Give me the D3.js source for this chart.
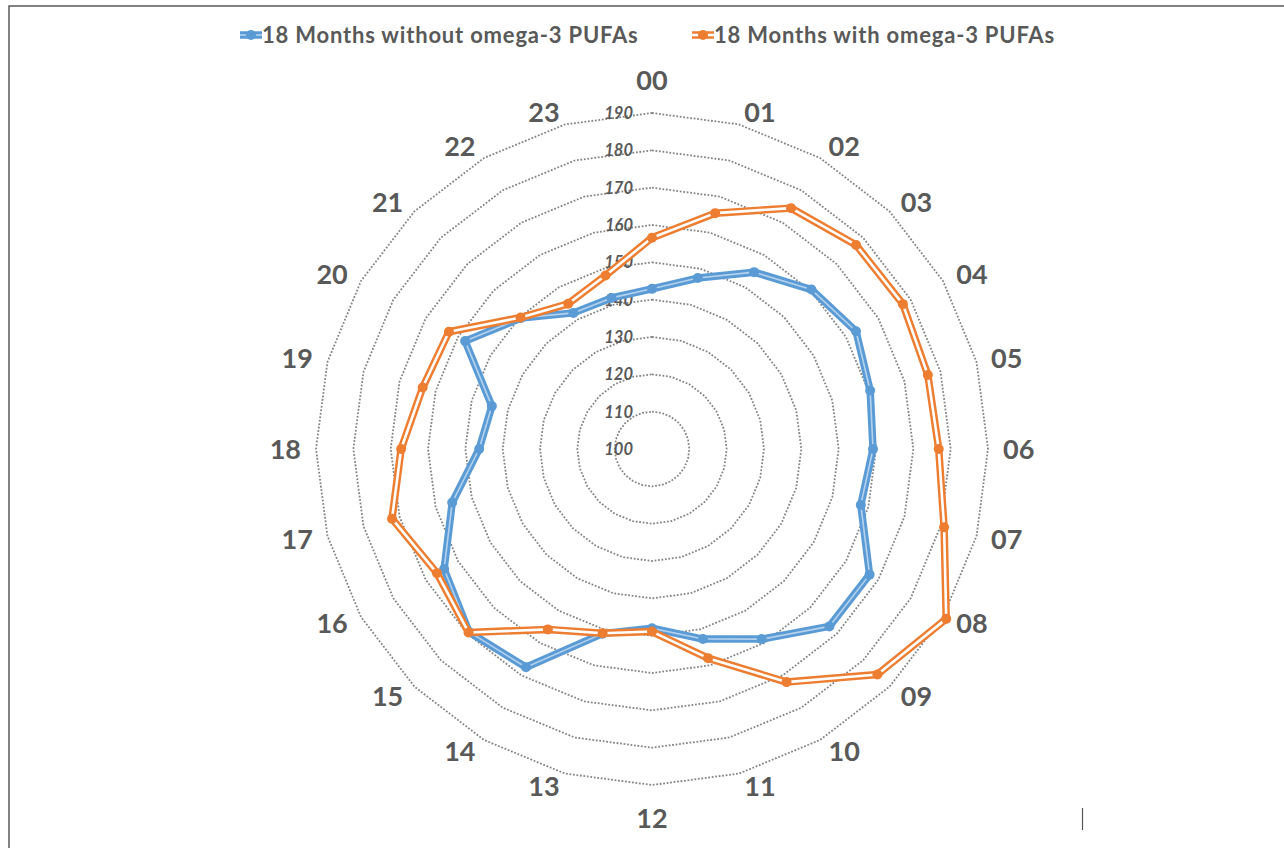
<!DOCTYPE html>
<html>
<head>
<meta charset="utf-8">
<script src="https://cdn.jsdelivr.net/npm/d3@7"></script>
<style>
    html, body { margin: 0; padding: 0; background: #ffffff; }
    svg { display: block; font-family: Lato, "Open Sans", sans-serif; }
</style>
</head>
<body>
<div id="chart"></div>
<script>
// Hours of the day around the radar
let hours = ["00", "01", "02", "03", "04", "05", "06", "07", "08", "09", "10", "11",
             "12", "13", "14", "15", "16", "17", "18", "19", "20", "21", "22", "23"];

// Series values
let withoutOmega = [142.9, 147.4, 154.7, 160.4, 163.1, 160.5, 159.2, 157.9, 167.3, 167.2, 158.8, 152.7,
                    148.0, 151.2, 167.5, 169.3, 164.3, 155.4, 146.3, 144.4, 157.8, 149.6, 142.1, 141.9];
let withOmega = [156.6, 165.4, 174.5, 177.3, 177.6, 176.5, 176.8, 181.0, 191.0, 185.4, 172.1, 158.0,
                 148.9, 151.1, 155.8, 169.5, 166.5, 172.1, 167.2, 163.6, 162.8, 149.8, 144.9, 148.1];

let seriesNames = ["18 Months without omega-3 PUFAs", "18 Months with omega-3 PUFAs"];
let tickValues = [100, 110, 120, 130, 140, 150, 160, 170, 180, 190];

let WIDTH = 1284,
    HEIGHT = 848,
    CX = 652,
    CY = 449,
    R_MAX = 336,
    LABEL_R = 349
;

let colors = ["#5b9bd5", "#ed7d31"];
let innerColors = ["#b4d2ee", "#ffffff"];

let svg = d3.select('#chart')
    .append('svg')
    .attr('width', WIDTH)
    .attr('height', HEIGHT);

// outer frame (only top and left edges are inside the picture)
svg.append('rect')
    .attr('x', 9).attr('y', 6)
    .attr('width', WIDTH + 20).attr('height', HEIGHT + 20)
    .attr('fill', 'none')
    .attr('stroke', '#5a5a5a')
    .attr('stroke-width', 1.5);

// stray tick at the bottom right
svg.append('line')
    .attr('x1', 1082.5).attr('x2', 1082.5)
    .attr('y1', 808).attr('y2', 830)
    .attr('stroke', '#555')
    .attr('stroke-width', 1.2);

let r = d3.scaleLinear().domain([100, 190]).range([0, R_MAX]);
let angle = d3.scaleLinear().domain([0, hours.length]).range([0, 2 * Math.PI]);

let g = svg.append('g').attr('transform', `translate(${CX},${CY})`);

// Grid rings (24-gons)
let ring = d3.lineRadial()
    .angle((d, i) => angle(i))
    .radius(d => r(d))
    .curve(d3.curveLinearClosed);

g.selectAll('.ring')
    .data(tickValues.filter(v => v > 100))
    .enter()
    .append('path')
    .attr('d', v => ring(hours.map(() => v)))
    .attr('fill', 'none')
    .attr('stroke', '#858585')
    .attr('stroke-width', 1.8)
    .attr('stroke-dasharray', '1.8,1.7');

// Tick labels along the 00 spoke
g.selectAll('.tick')
    .data(tickValues)
    .enter()
    .append('text')
    .attr('x', -19)
    .attr('y', v => -r(v))
    .attr('dy', '0.36em')
    .attr('text-anchor', 'end')
    .attr('font-size', 16.5)
    .attr('font-style', 'italic')
    .attr('font-weight', 700)
    .attr('fill', '#595959')
    .text(v => v);

// Series lines: double-line look, thick coloured stroke with a lighter core
let line = d3.lineRadial()
    .angle((d, i) => angle(i))
    .radius(d => r(d))
    .curve(d3.curveLinearClosed);

[withoutOmega, withOmega].forEach((values, s) => {
    let sg = g.append('g');
    sg.append('path')
        .attr('d', line(values))
        .attr('fill', 'none')
        .attr('stroke', colors[s])
        .attr('stroke-width', 7.5)
        .attr('stroke-linejoin', 'round');
    sg.append('path')
        .attr('d', line(values))
        .attr('fill', 'none')
        .attr('stroke', innerColors[s])
        .attr('stroke-width', s === 0 ? 1.6 : 2.6)
        .attr('stroke-linejoin', 'round');
    sg.selectAll('circle')
        .data(values)
        .enter()
        .append('circle')
        .attr('cx', (d, i) => r(d) * Math.sin(angle(i)))
        .attr('cy', (d, i) => -r(d) * Math.cos(angle(i)))
        .attr('r', 5)
        .attr('fill', colors[s]);
});

// Hour labels: right half anchored at start, left half at end, 00/12 centred
g.selectAll('.hour')
    .data(hours)
    .enter()
    .append('text')
    .attr('x', (d, i) => {
        let x = LABEL_R * Math.sin(angle(i));
        return i === 0 || i === 12 ? x : x + (i < 12 ? 2 : -2);
    })
    .attr('y', (d, i) => {
        let y = -LABEL_R * Math.cos(angle(i));
        if (i === 0) return y - 20;
        if (i === 12) return y + 20;
        return y;
    })
    .attr('dy', '0.36em')
    .attr('text-anchor', (d, i) => i === 0 || i === 12 ? 'middle' : (i < 12 ? 'start' : 'end'))
    .attr('font-size', 27)
    .attr('font-weight', 700)
    .attr('fill', '#595959')
    .text(d => d);

// Legend
let legendX = [240, 692];
let legend = svg.selectAll('.legend')
    .data(seriesNames)
    .enter()
    .append('g')
    .attr('transform', (d, i) => `translate(${legendX[i]},35)`);

legend.append('line')
    .attr('x1', 0).attr('x2', 22)
    .attr('stroke', (d, i) => colors[i])
    .attr('stroke-width', 7.5);
legend.append('line')
    .attr('x1', 0).attr('x2', 22)
    .attr('stroke', (d, i) => innerColors[i])
    .attr('stroke-width', (d, i) => i === 0 ? 1.6 : 2.6);
legend.append('circle')
    .attr('cx', 11)
    .attr('r', 5)
    .attr('fill', (d, i) => colors[i]);
legend.append('text')
    .attr('x', 22)
    .attr('dy', '0.35em')
    .attr('font-size', 22)
    .attr('font-weight', 700)
    .attr('letter-spacing', 0.8)
    .attr('fill', '#595959')
    .text(d => d);
</script>
</body>
</html>
